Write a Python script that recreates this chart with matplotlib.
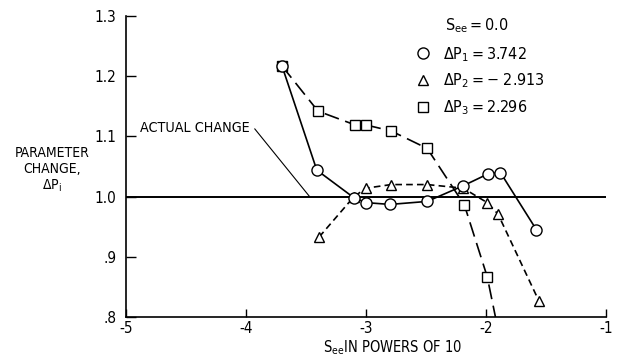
import matplotlib
matplotlib.use("Agg")
import matplotlib.pyplot as plt
from matplotlib.lines import Line2D

plt.rcParams['font.family'] = ['DejaVu Sans']
plt.rcParams['font.stretch'] = 'condensed'
plt.rcParams['mathtext.fontset'] = 'custom'
plt.rcParams['mathtext.rm'] = 'DejaVu Sans:stretch=condensed'
plt.rcParams['mathtext.it'] = 'DejaVu Sans:stretch=condensed'

# S_ee in powers of 10 vs parameter change
p1_x = [-3.70, -3.41, -3.10, -3.00, -2.80, -2.49, -2.19, -1.98, -1.88, -1.58]
p1_y = [1.217, 1.044, 0.998, 0.990, 0.987, 0.992, 1.018, 1.038, 1.040, 0.945]

p2_x = [-3.39, -3.10, -3.00, -2.79, -2.49, -2.19, -1.99, -1.90, -1.56]
p2_y = [0.933, 1.000, 1.014, 1.020, 1.020, 1.014, 0.990, 0.971, 0.827]

p3_x = [-3.70, -3.40, -3.09, -3.00, -2.79, -2.49, -2.18, -1.99, -1.87]
p3_y = [1.217, 1.142, 1.119, 1.119, 1.109, 1.080, 0.986, 0.867, 0.750]

labels = [r'$\mathregular{\Delta P_1 = 3.742}$',
          r'$\mathregular{\Delta P_2 = -\ 2.913}$',
          r'$\mathregular{\Delta P_3 = 2.296}$']

xticks = [-5, -4, -3, -2, -1]
yticks = [0.8, 0.9, 1.0, 1.1, 1.2, 1.3]
ytick_labels = ['.8', '.9', '1.0', '1.1', '1.2', '1.3']

W, H = 617, 364
fig = plt.figure(figsize=(W / 100, H / 100), dpi=100)
ax = fig.add_axes([126 / W, 1 - 317 / H, 480 / W, 301 / H])

mk = dict(markerfacecolor='white', markeredgecolor='black', markeredgewidth=1.0,
          color='black', lw=1.2, clip_on=True)
ax.plot(p3_x, p3_y, marker='s', ms=7, dashes=(9, 4), **mk)
ax.plot(p2_x, p2_y, marker='^', ms=7.5, dashes=(4, 2.5), **mk)
ax.plot(p1_x, p1_y, marker='o', ms=8, ls='-', **mk)

ax.axhline(1.0, color='black', lw=1.4, zorder=1)

ax.set_xlim(-5, -1)
ax.set_ylim(0.8, 1.3)
ax.set_xticks(xticks)
ax.set_xticklabels([str(t) for t in xticks])
ax.set_yticks(yticks)
ax.set_yticklabels(ytick_labels)
ax.tick_params(direction='in', labelsize=11, width=1.0)
ax.tick_params(axis='y', length=7, pad=7)
ax.tick_params(axis='x', length=6, pad=3)
for s in ['top', 'right']:
    ax.spines[s].set_visible(False)
for s in ['left', 'bottom']:
    ax.spines[s].set_linewidth(1.2)

ax.annotate('ACTUAL CHANGE', xy=(-3.47, 1.0), xytext=(-4.88, 1.114),
            fontsize=10.3, va='center', ha='left',
            arrowprops=dict(arrowstyle='-', lw=0.8, color='black',
                            connectionstyle='angle,angleA=0,angleB=-51,rad=0',
                            shrinkA=1.5, shrinkB=0))

# legend block
handles = [Line2D([], [], ls='none', marker=m, ms=s, markerfacecolor='white',
                  markeredgecolor='black', markeredgewidth=1.0)
           for m, s in [('o', 8), ('^', 7.5), ('s', 7)]]
fig.legend(handles, labels, loc='upper left',
           bbox_to_anchor=(415 / W, 1 - 45 / H), frameon=False, fontsize=11.5,
           handlelength=1.0, handletextpad=0.75, borderpad=0, borderaxespad=0,
           labelspacing=0.5)
fig.text(445 / W, 1 - 26 / H, r'$\mathregular{S_{ee} = 0.0}$', fontsize=11.5,
         ha='left', va='center')

fig.text(52 / W, 1 - 170 / H, 'PARAMETER\nCHANGE,\n' + r'$\mathregular{\Delta P_i}$',
         fontsize=10, ha='center', va='center', multialignment='center',
         linespacing=1.15)
fig.text(393 / W, 1 - 348 / H, r'$\mathregular{S_{ee}}$IN POWERS OF 10',
         fontsize=10.5, ha='center', va='center')

fig.savefig('out.png', dpi=100)
